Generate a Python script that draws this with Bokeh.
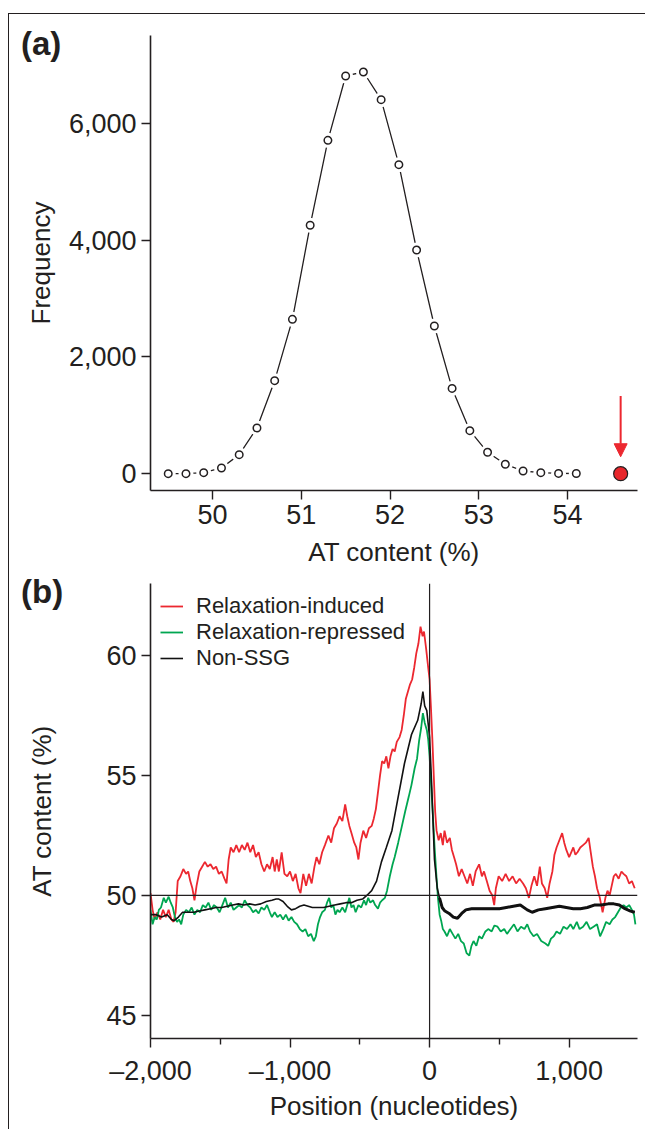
from bokeh.plotting import figure
from bokeh.models import (FixedTicker, Span, Arrow, NormalHead, Legend,
                          LegendItem, NumeralTickFormatter, Div)
from bokeh.layouts import column
from bokeh.embed import file_html
from bokeh.resources import INLINE

FONT = "Liberation Sans"
TXT = "#231f20"
RED = "#ec2830"
GREEN = "#00a651"

# ---------------- panel (a) data ----------------
at_bins = [49.5, 49.7, 49.9, 50.1, 50.3, 50.5, 50.7, 50.9, 51.1, 51.3, 51.5, 51.7,
           51.9, 52.1, 52.3, 52.5, 52.7, 52.9, 53.1, 53.3, 53.5, 53.7, 53.9, 54.1]
frequency = [0, 0, 17, 98, 326, 783, 1593, 2643, 4253, 5708, 6810, 6878,
             6404, 5291, 3830, 2529, 1460, 737, 366, 161, 46, 17, 5, 3]
outlier_at = [54.6]
outlier_freq = [0]
arrow_from = 1330
arrow_to = 290
freq_ticks = [0, 2000, 4000, 6000]
at_ticks = [50, 51, 52, 53, 54]

# ---------------- panel (b) data ----------------
red_pos = [-2000, -1985, -1970, -1950, -1930, -1910, -1890, -1870, -1850, -1835, -1820, -1805,
           -1785, -1765, -1745, -1730, -1715, -1700, -1685, -1670, -1650, -1630, -1610, -1590,
           -1570, -1550, -1530, -1510, -1490, -1470, -1455, -1440, -1425, -1405, -1385, -1365,
           -1345, -1325, -1305, -1285, -1265, -1245, -1225, -1205, -1185, -1165, -1145, -1125,
           -1110, -1095, -1080, -1060, -1040, -1020, -1000, -980, -960, -940, -925, -905,
           -885, -865, -845, -825, -810, -790, -770, -750, -725, -705, -685, -665,
           -645, -625, -605, -590, -575, -560, -540, -525, -510, -495, -475, -455,
           -435, -415, -400, -385, -370, -355, -340, -325, -310, -295, -280, -265,
           -250, -235, -215, -200, -185, -170, -155, -140, -125, -110, -95, -80,
           -65, -50, -40, -25, -10, 0, 10, 20, 30, 40, 50, 65,
           80, 95, 107, 125, 145, 160, 175, 190, 210, 230, 250, 270,
           290, 310, 330, 355, 375, 390, 410, 430, 450, 463, 475, 495,
           520, 545, 570, 595, 620, 645, 670, 690, 712, 730, 750, 770,
           790, 805, 825, 843, 860, 880, 895, 910, 930, 950, 965, 980,
           1000, 1015, 1030, 1045, 1060, 1080, 1100, 1120, 1140, 1155, 1170, 1185,
           1200, 1220, 1240, 1260, 1275, 1290, 1305, 1320, 1335, 1355, 1375, 1390,
           1410, 1430, 1450, 1470]
red_at = [50.1, 49.4, 49.0, 49.3, 49.0, 49.4, 49.1, 49.4, 49.0, 48.9, 49.3, 50.6,
          50.8, 51.1, 50.9, 51.0, 50.6, 50.3, 49.8, 50.4, 51.0, 51.2, 51.4, 51.2,
          51.3, 51.1, 51.2, 50.9, 51.0, 50.7, 50.5, 51.5, 52.0, 51.8, 52.1, 51.8,
          52.1, 51.9, 52.2, 51.8, 52.1, 51.6, 51.8, 51.3, 51.0, 51.3, 51.1, 51.6,
          51.0, 51.5, 51.0, 51.8, 50.9, 50.8, 51.0, 50.6, 50.9, 50.3, 50.1, 50.9,
          50.4, 50.9, 50.5, 51.2, 51.6, 51.3, 51.8, 52.1, 52.5, 52.2, 52.8, 53.0,
          53.3, 53.1, 53.8, 53.3, 52.9, 52.6, 52.2, 52.0, 51.5, 52.2, 52.7, 52.4,
          52.8, 52.9, 53.2, 53.6, 54.3, 55.0, 55.6, 55.5, 55.8, 55.3, 55.8, 56.1,
          56.0, 56.4, 56.6, 56.9, 57.5, 58.2, 58.5, 58.8, 59.0, 59.5, 60.1, 60.5,
          61.2, 60.8, 61.0, 60.3, 59.5, 59.0, 57.8, 56.5, 55.0, 53.5, 52.7, 52.3,
          52.6, 52.1, 52.7, 52.2, 52.4, 51.9, 51.6, 51.3, 50.8, 51.1, 50.8, 50.5,
          50.9, 50.4, 51.0, 51.3, 50.8, 51.0, 50.6, 50.2, 50.0, 49.6, 50.3, 50.8,
          50.6, 50.9, 50.6, 50.8, 50.5, 50.7, 50.5, 50.3, 49.9, 50.4, 50.8, 50.4,
          51.2, 50.5, 50.3, 49.9, 50.5, 51.0, 51.7, 52.0, 52.3, 52.6, 52.2, 51.9,
          51.6, 51.8, 52.0, 51.7, 51.8, 52.0, 52.1, 52.2, 52.4, 51.8, 51.2, 50.8,
          50.3, 49.9, 49.3, 49.9, 50.2, 50.0, 50.4, 50.8, 50.9, 50.7, 51.0, 50.9,
          50.8, 50.5, 50.6, 50.3]

green_pos = [-2000, -1985, -1970, -1955, -1940, -1925, -1905, -1890, -1870, -1855, -1840, -1825,
             -1810, -1795, -1780, -1765, -1745, -1725, -1705, -1685, -1665, -1645, -1625, -1605,
             -1585, -1565, -1545, -1525, -1505, -1485, -1465, -1445, -1425, -1405, -1385, -1365,
             -1345, -1325, -1305, -1285, -1265, -1245, -1225, -1205, -1185, -1165, -1145, -1130,
             -1110, -1090, -1070, -1050, -1030, -1010, -990, -970, -950, -930, -910, -890,
             -870, -850, -830, -815, -800, -785, -770, -750, -735, -720, -705, -690,
             -675, -660, -645, -625, -605, -590, -575, -560, -545, -530, -510, -490,
             -470, -455, -440, -425, -405, -390, -370, -355, -340, -320, -305, -285,
             -265, -250, -225, -200, -175, -150, -130, -107, -90, -75, -60, -48,
             -35, -20, -10, 0, 12, 24, 36, 48, 60, 72, 83, 95,
             107, 125, 145, 165, 185, 205, 225, 245, 265, 285, 300, 315,
             335, 355, 375, 400, 420, 445, 465, 487, 510, 535, 555, 580,
             605, 630, 655, 680, 700, 720, 745, 770, 800, 830, 850, 870,
             890, 910, 935, 960, 985, 1010, 1030, 1055, 1075, 1100, 1125, 1150,
             1175, 1200, 1222, 1245, 1265, 1290, 1310, 1330, 1350, 1370, 1390, 1410,
             1430, 1450, 1465, 1475]
green_at = [49.4, 48.8, 49.1, 49.0, 49.4, 49.5, 49.9, 49.7, 49.95, 49.7, 49.5, 49.1,
            48.9, 49.0, 48.8, 49.2, 49.4, 49.3, 49.5, 49.2, 49.4, 49.3, 49.6, 49.5,
            49.7, 49.4, 49.6, 49.5, 49.3, 49.6, 49.9, 49.5, 49.7, 49.4, 49.5, 49.6,
            49.5, 49.8, 49.6, 49.5, 49.3, 49.4, 49.25, 49.5, 49.4, 49.6, 49.3, 49.1,
            49.3, 49.1, 49.2, 49.0, 49.2, 48.95, 49.1, 48.9, 48.8, 48.6, 48.5, 48.6,
            48.3, 48.4, 48.1, 48.3, 48.8, 49.1, 49.3, 49.4, 49.7, 49.9, 49.5, 49.6,
            49.2, 49.4, 49.3, 49.5, 49.3, 49.6, 49.9, 49.5, 49.6, 49.3, 49.6, 49.5,
            49.8, 49.6, 49.9, 49.7, 49.8, 49.6, 49.45, 49.7, 49.8, 49.9, 50.2, 50.8,
            51.3, 51.6, 52.2, 52.85, 53.5, 54.1, 54.6, 55.3, 55.7, 56.45, 57.0, 57.6,
            57.2, 56.9, 56.5, 55.8, 54.5, 53.3, 52.0, 50.9, 49.9, 49.2, 48.95, 48.6,
            48.5, 48.3, 48.6, 48.4, 48.2, 48.4, 48.1, 48.0, 47.6, 47.5, 47.9, 48.1,
            47.9, 48.3, 48.2, 48.5, 48.6, 48.5, 48.75, 48.7, 48.5, 48.6, 48.4, 48.6,
            48.8, 48.5, 48.7, 48.6, 48.8, 48.5, 48.3, 48.4, 48.1, 48.0, 47.9, 48.2,
            48.3, 48.5, 48.4, 48.7, 48.6, 48.8, 48.6, 48.9, 48.6, 48.7, 48.9, 48.6,
            48.7, 48.8, 48.3, 48.6, 48.9, 48.8, 49.0, 49.1, 49.3, 49.5, 49.6, 49.5,
            49.6, 49.4, 49.2, 48.8]

black_pos = [-2000, -1960, -1920, -1880, -1850, -1830, -1800, -1770, -1730, -1690, -1650, -1610,
             -1570, -1530, -1490, -1450, -1410, -1370, -1330, -1290, -1250, -1210, -1170, -1130,
             -1100, -1080, -1050, -1020, -990, -960, -930, -900, -870, -840, -800, -760,
             -720, -680, -640, -600, -560, -520, -480, -450, -415, -380, -345, -310,
             -270, -230, -180, -130, -85, -60, -48, -35, -20, 0, 15, 35,
             55, 71, 90, 110, 140, 170, 200, 230, 260, 300, 350, 400,
             450, 500, 550, 600, 650, 700, 735, 780, 830, 880, 930, 980,
             1030, 1080, 1130, 1180, 1230, 1280, 1320, 1360, 1400, 1440, 1470]
black_at = [49.2, 49.2, 49.1, 49.2, 49.0, 48.95, 49.1, 49.3, 49.3, 49.3, 49.35, 49.4,
            49.45, 49.5, 49.5, 49.55, 49.6, 49.65, 49.6, 49.65, 49.6, 49.65, 49.75, 49.8,
            49.85, 49.85, 49.75, 49.55, 49.4, 49.45, 49.55, 49.6, 49.55, 49.5, 49.5, 49.5,
            49.55, 49.6, 49.65, 49.7, 49.7, 49.8, 49.85, 50.0, 50.2, 50.6, 51.4, 52.0,
            52.7, 53.95, 55.5, 56.7, 57.3, 58.0, 58.5, 57.9, 57.7, 56.6, 54.6, 51.5,
            50.3, 49.9, 49.5, 49.35, 49.25, 49.1, 49.05, 49.25, 49.4, 49.45, 49.45, 49.45,
            49.45, 49.45, 49.5, 49.55, 49.6, 49.4, 49.3, 49.4, 49.45, 49.5, 49.55, 49.5,
            49.45, 49.45, 49.5, 49.6, 49.6, 49.65, 49.65, 49.6, 49.45, 49.35, 49.3]

pos_ticks = [-2000, -1000, 0, 1000]
pos_minor = [-1500, -500, 500]
pos_labels = {-2000: "\u20132,000", -1000: "\u20131,000", 0: "0", 1000: "1,000"}
at_ticks_b = [45, 50, 55, 60]
series_names = ["Relaxation-induced", "Relaxation-repressed", "Non-SSG"]

W = 636
HA = 556
HB = 559


def style_axes(p):
    p.grid.visible = False
    p.outline_line_color = None
    p.background_fill_color = "white"
    p.border_fill_color = None
    for ax in (p.xaxis[0], p.yaxis[0]):
        ax.axis_line_color = TXT
        ax.axis_line_width = 1.6
        ax.major_tick_line_color = TXT
        ax.major_tick_line_width = 1.4
        ax.major_tick_out = 9
        ax.major_tick_in = 0
        ax.minor_tick_line_color = None
        ax.major_label_text_font = FONT
        ax.major_label_text_font_size = "27px"
        ax.major_label_text_color = TXT
        ax.major_label_standoff = 5
        ax.axis_label_text_font = FONT
        ax.axis_label_text_font_size = "26px"
        ax.axis_label_text_font_style = "normal"
        ax.axis_label_text_color = TXT
        ax.axis_label_standoff = 10


def panel_tag(txt, top, canvas_h):
    h = 34
    return Div(text=('<span style="font-family:\'Liberation Sans\';font-weight:bold;'
                     'font-size:33px;line-height:34px;color:#231f20">' + txt + '</span>'),
               width=60, height=h, margin=(-canvas_h + top, 0, canvas_h - top - h, 12))


# ---------------- panel (a) ----------------
pa = figure(width=W, height=HA, x_range=(49.3, 54.79), y_range=(-288, 7503),
            output_backend="svg", toolbar_location=None,
            min_border_left=141, min_border_right=5, min_border_top=21, min_border_bottom=80)
style_axes(pa)
pa.xaxis.ticker = FixedTicker(ticks=at_ticks)
pa.yaxis.ticker = FixedTicker(ticks=freq_ticks)
pa.yaxis.formatter = NumeralTickFormatter(format="0,0")
pa.xaxis.axis_label = "AT content (%)"
pa.yaxis.axis_label = "Frequency"

pa.line(at_bins, frequency, line_color=TXT, line_width=1.3)
pa.scatter(at_bins, frequency, size=15, fill_color="white", line_color=None)
pa.scatter(at_bins, frequency, size=7.5, fill_color="white", line_color=TXT, line_width=1.5)
pa.scatter(outlier_at, outlier_freq, size=14, fill_color="#e8262b", line_color=TXT, line_width=1.2)
pa.add_layout(Arrow(x_start=outlier_at[0], y_start=arrow_from, x_end=outlier_at[0], y_end=arrow_to,
                    line_color=RED, line_width=2,
                    end=NormalHead(size=13, fill_color=RED, line_color=RED)))

# ---------------- panel (b) ----------------
pb = figure(width=W, height=HB, x_range=(-2000, 1490), y_range=(44.04, 63.0),
            output_backend="svg", toolbar_location=None,
            min_border_left=137, min_border_right=8, min_border_top=13, min_border_bottom=91)
style_axes(pb)
pb.xaxis.ticker = FixedTicker(ticks=pos_ticks, minor_ticks=pos_minor)
pb.xaxis.major_label_overrides = pos_labels
pb.xaxis.minor_tick_line_color = TXT
pb.xaxis.minor_tick_line_width = 1.4
pb.xaxis.minor_tick_out = 6
pb.xaxis.minor_tick_in = 0
pb.xaxis.major_label_standoff = 8
pb.xaxis.axis_label_standoff = 2
pb.yaxis.ticker = FixedTicker(ticks=at_ticks_b)
pb.yaxis.axis_label_standoff = 46
pb.xaxis.axis_label = "Position (nucleotides)"
pb.yaxis.axis_label = "AT content (%)"

pb.add_layout(Span(location=0, dimension="height", line_color=TXT, line_width=1.2))
pb.add_layout(Span(location=50, dimension="width", line_color=TXT, line_width=1.2))

r_red = pb.line(red_pos, red_at, line_color=RED, line_width=1.8)
r_green = pb.line(green_pos, green_at, line_color=GREEN, line_width=1.8)
r_black = pb.line(black_pos, black_at, line_color="#111111", line_width=1.6)
thick_idx = [i for i, x in enumerate(black_pos) if x >= 60]
pb.line([black_pos[i] for i in thick_idx], [black_at[i] for i in thick_idx],
        line_color="#111111", line_width=3)

legend = Legend(items=[LegendItem(label=series_names[0], renderers=[r_red]),
                       LegendItem(label=series_names[1], renderers=[r_green]),
                       LegendItem(label=series_names[2], renderers=[r_black])],
                location="top_left", margin=10, padding=8, spacing=0,
                glyph_width=23, glyph_height=26, label_height=26, label_standoff=13,
                label_text_font=FONT, label_text_font_size="22px", label_text_color=TXT,
                background_fill_alpha=0, border_line_color=None)
pb.add_layout(legend)

tag_a = panel_tag("(a)", 13, HA)
tag_b = panel_tag("(b)", 5, HB)

layout = column(pa, tag_a, pb, tag_b, spacing=0, margin=(13, 0, 0, 8),
                styles={"border-top": "1.5px solid #231f20", "border-left": "1.5px solid #231f20"})

open("out.html", "w").write(file_html(layout, INLINE))
